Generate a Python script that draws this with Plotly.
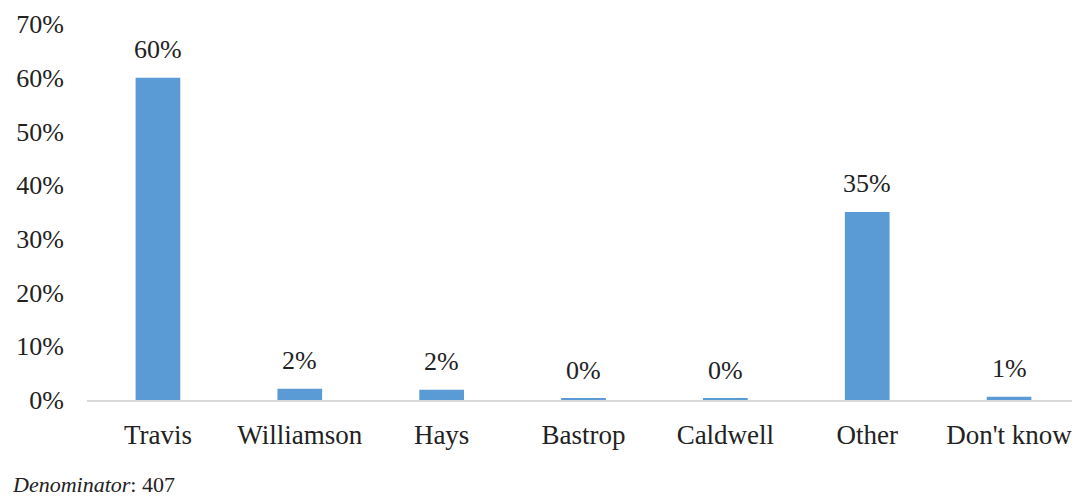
import plotly.graph_objects as go

categories = ["Travis", "Williamson", "Hays", "Bastrop", "Caldwell", "Other", "Don't know"]
values = [60.0, 2.1, 1.9, 0.2, 0.2, 35.0, 0.6]
labels = ["60%", "2%", "2%", "0%", "0%", "35%", "1%"]
y_ticks = [0, 10, 20, 30, 40, 50, 60, 70]
y_tick_labels = ["0%", "10%", "20%", "30%", "40%", "50%", "60%", "70%"]

FONT = "Liberation Serif"
TXT = "#222222"

# page body has an 8px margin, so the figure is sized to fit the 1080x496 window
W, H = 1072, 488
L, T, B, R = 79, 16, 96, 0

fig = go.Figure(go.Bar(
    x=categories, y=values,
    marker=dict(color="#5B9BD5", line=dict(width=0)),
    cliponaxis=False,
))
for c, v, t in zip(categories, values, labels):
    fig.add_annotation(
        x=c, y=v, text=t, showarrow=False, yanchor="bottom", yshift=12,
        font=dict(family=FONT, size=26, color=TXT),
    )

fig.update_layout(
    width=W, height=H,
    margin=dict(l=L, r=R, t=T, b=B),
    paper_bgcolor="white", plot_bgcolor="white",
    bargap=0.685,
    showlegend=False,
    font=dict(family=FONT, size=26, color=TXT),
)
fig.update_yaxes(
    range=[0, 70], tickvals=y_ticks, ticktext=y_tick_labels,
    showgrid=False, zeroline=False, showline=False,
    ticklabelstandoff=22, tickfont=dict(family=FONT, size=26, color=TXT),
)
fig.update_xaxes(
    showline=True, linecolor="#D9D9D9", linewidth=1.5,
    showgrid=False, ticks="", tickfont=dict(family=FONT, size=27, color=TXT),
    ticklabelstandoff=10,
)
pw = W - L - R
ph = H - T - B
fig.add_annotation(
    text="<i>Denominator</i>: 407", xref="paper", yref="paper",
    x=-(L - 2) / pw, y=-(476 - (T + ph)) / ph, xanchor="left", yanchor="middle",
    showarrow=False, font=dict(family=FONT, size=22, color=TXT),
)
fig.write_html("out.html")
